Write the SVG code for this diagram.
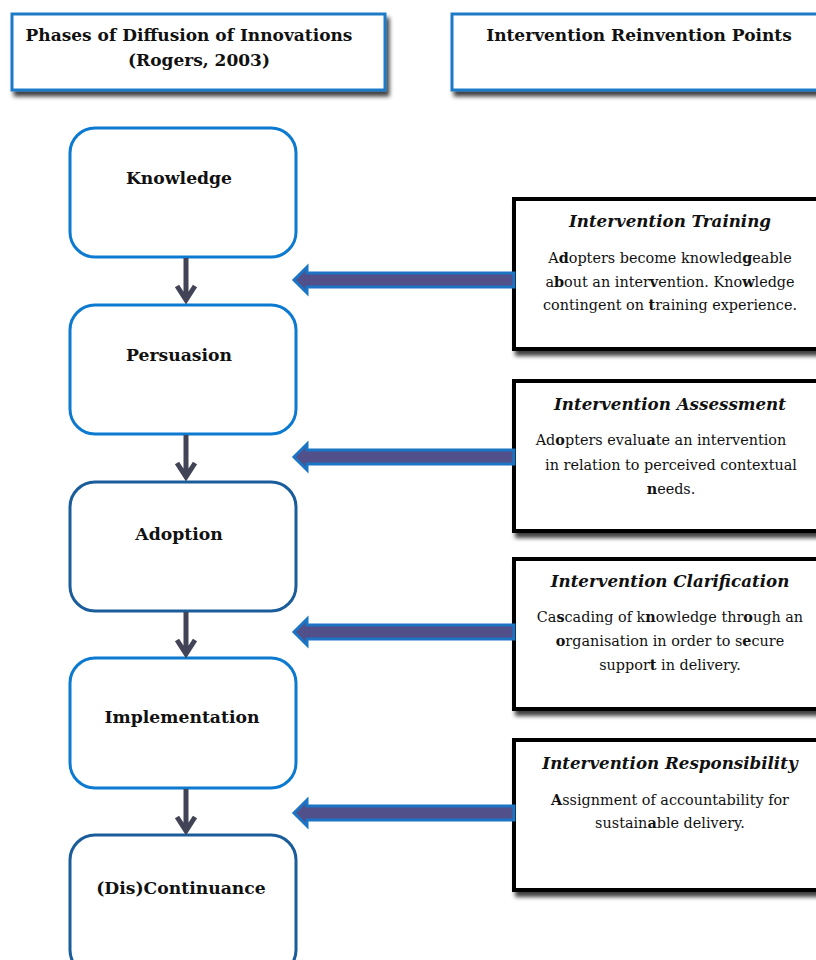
<svg xmlns="http://www.w3.org/2000/svg" width="816" height="960" viewBox="0 0 816 960">
<defs>
<filter id="sh" x="-10%" y="-10%" width="130%" height="140%">
<feGaussianBlur in="SourceAlpha" stdDeviation="2"/>
<feOffset dx="3" dy="5" result="o"/>
<feComponentTransfer><feFuncA type="linear" slope="0.75"/></feComponentTransfer>
<feMerge><feMergeNode/><feMergeNode in="SourceGraphic"/></feMerge>
</filter>
</defs>
<style>
text{font-family:"DejaVu Serif","Liberation Serif",serif;fill:#111;text-anchor:middle}
.hdr{fill:#fff;stroke:#1F7AC6;stroke-width:3}
.ph{fill:#fff;stroke:#0C7AD0;stroke-width:3}
.ph2{fill:#fff;stroke:#1B5C9A;stroke-width:3}
.ip{fill:#fff;stroke:#000;stroke-width:4}
.t{font-weight:bold;font-size:17px}
.pt{font-weight:bold;font-size:17.2px}
.it{font-weight:bold;font-style:italic;font-size:16.7px}
.b{font-size:14.4px}
.bb{font-weight:bold}
.dwn{stroke:#434357;stroke-width:5;fill:none;stroke-linecap:butt}
.blk{fill:#51508A;stroke:#1B74C4;stroke-width:3;stroke-linejoin:miter}
</style>
<rect width="816" height="960" fill="#fff"/>

<g id="header-phases">
<rect class="hdr" x="12" y="14" width="373" height="76" filter="url(#sh)"/>
<text class="t" x="189" y="41">Phases of Diffusion of Innovations</text>
<text class="t" x="199" y="66">(Rogers, 2003)</text>
</g>
<g id="header-points">
<rect class="hdr" x="452" y="14" width="380" height="76" filter="url(#sh)"/>
<text class="t" x="639" y="41">Intervention Reinvention Points</text>
</g>

<g id="knowledge">
<rect class="ph" x="70" y="128" width="226" height="129" rx="25"/>
<text class="pt" x="179" y="184">Knowledge</text>
</g>
<g id="persuasion">
<rect class="ph" x="70" y="305" width="226" height="129" rx="25"/>
<text class="pt" x="179" y="361">Persuasion</text>
</g>
<g id="adoption">
<rect class="ph2" x="70" y="482" width="226" height="129" rx="25"/>
<text class="pt" x="179" y="540">Adoption</text>
</g>
<g id="implementation">
<rect class="ph" x="70" y="658" width="226" height="130" rx="25"/>
<text class="pt" x="182" y="723">Implementation</text>
</g>
<g id="discontinuance">
<rect class="ph2" x="70" y="835" width="226" height="140" rx="25"/>
<text class="pt" x="181" y="894">(Dis)Continuance</text>
</g>

<g id="training">
<rect class="ip" x="514" y="199" width="320" height="150" filter="url(#sh)"/>
<text class="it" x="670" y="227">Intervention Training</text>
<text class="b" x="670" y="263">A<tspan class="bb">d</tspan>opters become knowled<tspan class="bb">g</tspan>eable</text>
<text class="b" x="670" y="287">a<tspan class="bb">b</tspan>out an inter<tspan class="bb">v</tspan>ention. Kno<tspan class="bb">w</tspan>ledge</text>
<text class="b" x="670" y="310">contingent on <tspan class="bb">t</tspan>raining experience.</text>
</g>
<g id="assessment">
<rect class="ip" x="514" y="381" width="320" height="150" filter="url(#sh)"/>
<text class="it" x="670" y="410">Intervention Assessment</text>
<text class="b" x="661" y="445">Ad<tspan class="bb">o</tspan>pters evalu<tspan class="bb">a</tspan>te an intervention</text>
<text class="b" x="671" y="470">in relation to perceived contextual</text>
<text class="b" x="671" y="494"><tspan class="bb">n</tspan>eeds.</text>
</g>
<g id="clarification">
<rect class="ip" x="514" y="559" width="320" height="150" filter="url(#sh)"/>
<text class="it" x="670" y="587">Intervention Clarification</text>
<text class="b" x="670" y="622">Ca<tspan class="bb">s</tspan>cading of k<tspan class="bb">n</tspan>owledge thr<tspan class="bb">o</tspan>ugh an</text>
<text class="b" x="670" y="646"><tspan class="bb">o</tspan>rganisation in order to s<tspan class="bb">e</tspan>cure</text>
<text class="b" x="670" y="670">suppor<tspan class="bb">t</tspan> in delivery.</text>
</g>
<g id="responsibility">
<rect class="ip" x="514" y="740" width="320" height="150" filter="url(#sh)"/>
<text class="it" x="670" y="769">Intervention Responsibility</text>
<text class="b" x="670" y="805"><tspan class="bb">A</tspan>ssignment of accountability for</text>
<text class="b" x="670" y="828">sustain<tspan class="bb">a</tspan>ble delivery.</text>
</g>

<g id="connectors">
<path class="dwn" d="M186 258 V300 M177 286 L186 300 L195 286"/>
<path class="dwn" d="M186 435 V477 M177 463 L186 477 L195 463"/>
<path class="dwn" d="M186 612 V654 M177 640 L186 654 L195 640"/>
<path class="dwn" d="M186 789 V831 M177 817 L186 831 L195 817"/>
<path class="blk" d="M514 273 H307 V267 L294 280 L307 293 V287 H514 Z"/>
<path class="blk" d="M514 450 H307 V444 L294 457 L307 470 V464 H514 Z"/>
<path class="blk" d="M514 625 H307 V619 L294 632 L307 645 V639 H514 Z"/>
<path class="blk" d="M514 806 H307 V800 L294 813 L307 826 V820 H514 Z"/>
</g>
</svg>
